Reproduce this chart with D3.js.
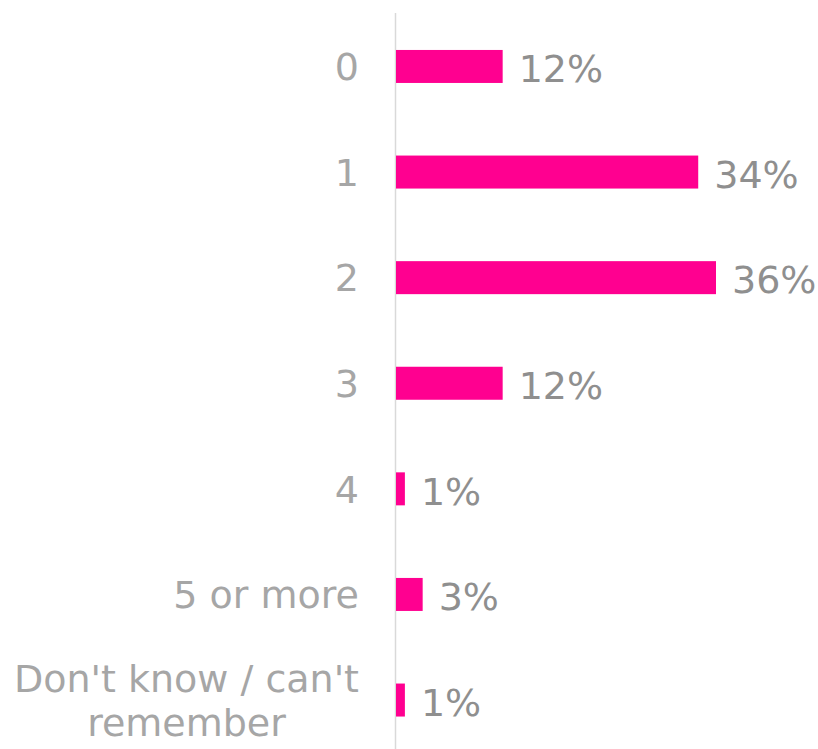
<!DOCTYPE html>
<html>
<head>
<meta charset="utf-8">
<script src="https://cdn.jsdelivr.net/npm/d3@7"></script>
<style>
  html, body { margin: 0; padding: 0; background: #ffffff; }
  svg { display: block; }
  text { font-family: "DejaVu Sans", Verdana, sans-serif; }
</style>
</head>
<body>
<svg id="chart" width="818" height="749"></svg>
<script>
// Number of answers given, share of respondents (%)
const categories = ["0", "1", "2", "3", "4", "5 or more", "Don't know / can't remember"];
const values = [12, 34, 36, 12, 1, 3, 1];
const valueLabels = ["12%", "34%", "36%", "12%", "1%", "3%", "1%"];

const width = 818, height = 749;
const svg = d3.select("#chart");

const x = d3.scaleLinear().domain([0, 36]).range([396, 716]);
const y = d3.scaleBand()
  .domain(categories)
  .range([13, 753.5])
  .paddingInner(0.6875)
  .paddingOuter(0.35);

const fontSize = 38;
const catColor = "#a6a6a6";
const valColor = "#8f8f8f";
const barColor = "#ff0090";
const labelRight = 359;
const wrapWidth = 355;

// vertical category axis line
svg.append("line")
  .attr("x1", 395.5).attr("x2", 395.5)
  .attr("y1", 13).attr("y2", height)
  .attr("stroke", "#d9d9d9")
  .attr("stroke-width", 1.5);

// bars
svg.append("g").selectAll("rect")
  .data(categories)
  .join("rect")
  .attr("x", x(0))
  .attr("y", d => y(d))
  .attr("width", (d, i) => x(values[i]) - x(0))
  .attr("height", y.bandwidth())
  .attr("fill", barColor);

// value labels
svg.append("g").selectAll("text")
  .data(categories)
  .join("text")
  .attr("x", (d, i) => x(values[i]) + 16)
  .attr("y", d => y(d) + y.bandwidth() / 2 + 2)
  .attr("dy", "0.36em")
  .attr("font-size", fontSize)
  .attr("fill", valColor)
  .text((d, i) => valueLabels[i]);

// category labels, wrapped and centred on their widest line
const measure = svg.append("text").attr("font-size", fontSize).attr("visibility", "hidden");
function textWidth(s) { measure.text(s); return measure.node().getComputedTextLength(); }

function wrapLines(label) {
  const words = label.split(" ");
  const lines = [];
  let cur = "";
  words.forEach(w => {
    const next = cur ? cur + " " + w : w;
    if (cur && textWidth(next) > wrapWidth) { lines.push(cur); cur = w; }
    else cur = next;
  });
  if (cur) lines.push(cur);
  return lines;
}

const lineHeight = 44;
const catG = svg.append("g");
categories.forEach(c => {
  const lines = wrapLines(c);
  const maxW = d3.max(lines, textWidth);
  const cx = labelRight - maxW / 2;
  const cy = y(c) + y.bandwidth() / 2;
  const t = catG.append("text")
    .attr("text-anchor", "middle")
    .attr("font-size", fontSize)
    .attr("fill", catColor);
  lines.forEach((ln, i) => {
    t.append("tspan")
      .attr("x", cx)
      .attr("y", cy + (i - (lines.length - 1) / 2) * lineHeight)
      .attr("dy", "0.36em")
      .text(ln);
  });
});
measure.remove();
</script>
</body>
</html>
